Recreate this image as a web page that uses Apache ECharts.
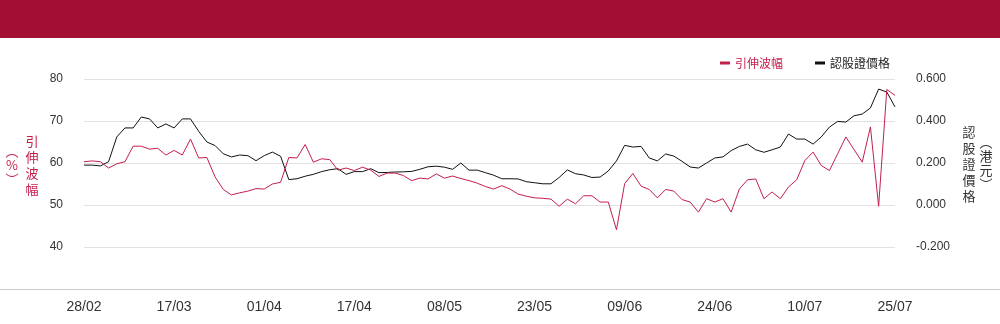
<!DOCTYPE html>
<html>
<head>
<meta charset="utf-8">
<script src="https://cdn.jsdelivr.net/npm/echarts@6/dist/echarts.min.js"></script>
<style>
html,body{margin:0;padding:0;background:#fff;}
#c{width:1000px;height:324px;}
</style>
</head>
<body>
<div id="c"></div>
<script>
var dates = ['28/02',
 '03/03','04/03','05/03','06/03','07/03','10/03','11/03','12/03','13/03','14/03','17/03','18/03','19/03','20/03','21/03','24/03','25/03','26/03','27/03','28/03','31/03',
 '01/04','02/04','03/04','07/04','08/04','09/04','10/04','11/04','14/04','15/04','16/04','17/04','22/04','23/04','24/04','25/04','28/04','29/04','30/04',
 '02/05','06/05','07/05','08/05','09/05','12/05','13/05','14/05','15/05','16/05','19/05','20/05','21/05','22/05','23/05','26/05','27/05','28/05','29/05','30/05',
 '02/06','03/06','04/06','05/06','06/06','09/06','10/06','11/06','12/06','13/06','16/06','17/06','18/06','19/06','20/06','23/06','24/06','25/06','26/06','27/06','30/06',
 '02/07','03/07','04/07','07/07','08/07','09/07','10/07','11/07','14/07','15/07','16/07','17/07','18/07','21/07','22/07','23/07','24/07','25/07'];

var impliedVol = [60.3,60.5,60.3,58.8,59.8,60.3,64.0,64.0,63.3,63.5,
 61.9,63.0,61.9,65.7,61.2,61.3,56.7,53.7,52.4,52.9,
 53.3,53.9,53.8,55.0,55.4,61.3,61.2,64.4,60.2,61.0,
 60.8,58.3,58.8,58.2,59.0,58.3,56.8,57.6,57.6,57.0,
 55.8,56.4,56.2,57.4,56.4,56.9,56.3,55.8,55.2,54.4,
 53.8,54.6,53.8,52.6,52.1,51.7,51.6,51.4,49.7,51.4,
 50.3,52.2,52.2,50.7,50.7,44.1,55.1,57.5,54.5,53.7,
 51.7,53.7,53.3,51.3,50.7,48.3,51.5,50.7,51.5,48.3,
 53.8,56.0,56.2,51.5,53.1,51.5,54.3,56.0,60.6,62.6,
 59.4,58.2,62.2,66.2,63.2,60.2,68.6,49.7,77.5,76.1];

var warrantPrice = [0.190,0.190,0.186,0.206,0.324,0.367,0.367,0.419,0.410,0.367,
 0.386,0.367,0.410,0.410,0.351,0.300,0.283,0.244,0.229,0.238,
 0.235,0.211,0.235,0.252,0.232,0.121,0.125,0.137,0.146,0.159,
 0.168,0.173,0.146,0.159,0.159,0.173,0.154,0.155,0.157,0.158,
 0.160,0.170,0.182,0.185,0.180,0.170,0.200,0.166,0.166,0.154,
 0.142,0.125,0.125,0.124,0.111,0.106,0.101,0.101,0.131,0.167,
 0.149,0.143,0.131,0.133,0.162,0.210,0.284,0.276,0.279,0.224,
 0.210,0.243,0.233,0.208,0.181,0.176,0.200,0.224,0.229,0.259,
 0.279,0.290,0.263,0.251,0.263,0.276,0.338,0.314,0.314,0.290,
 0.324,0.371,0.398,0.395,0.425,0.433,0.462,0.552,0.538,0.467];

var RED = '#c41e4b';
var BANNER = '#a30e34';
var LATIN = 'Liberation Sans, Arial, sans-serif';
var CJK = 'Noto Sans CJK TC, sans-serif';

var chart = echarts.init(document.getElementById('c'), null, {renderer:'canvas'});
chart.setOption({
  animation: false,
  backgroundColor: '#fff',
  graphic: [
    {type:'rect', shape:{x:0,y:0,width:1000,height:38}, style:{fill:BANNER}, silent:true},
    {type:'line', shape:{x1:0,y1:289.5,x2:1000,y2:289.5}, style:{stroke:'#cccccc',lineWidth:1}, silent:true, z:10},
    {type:'text', x:32, y:165, style:{text:'引\n伸\n波\n幅', fill:RED, font:'13px ' + CJK, lineHeight:16, align:'center', verticalAlign:'middle'}},
    {type:'text', x:12, y:165, style:{text:'︵\n%\n︶', fill:RED, font:'13px ' + CJK, lineHeight:14, align:'center', verticalAlign:'middle'}},
    {type:'text', x:969, y:164, style:{text:'認\n股\n證\n價\n格', fill:'#333', font:'13px ' + CJK, lineHeight:16, align:'center', verticalAlign:'middle'}},
    {type:'text', x:986, y:163, style:{text:'︵\n港\n元\n︶', fill:'#333', font:'13px ' + CJK, lineHeight:14, align:'center', verticalAlign:'middle'}}
  ],
  legend: {
    right: 105,
    top: 52,
    icon: 'rect',
    itemWidth: 10,
    itemHeight: 3,
    itemGap: 32,
    textStyle: {fontFamily: CJK, fontSize: 12, color:'#333'},
    data: [
      {name:'引伸波幅', textStyle:{color:RED}},
      {name:'認股證價格', textStyle:{color:'#222'}}
    ]
  },
  grid: {left:84, right:105, top:79, bottom:35, containLabel:false},
  xAxis: {
    type:'category',
    data: dates,
    boundaryGap:false,
    axisLine:{show:false},
    axisTick:{show:false},
    axisLabel:{interval:10, margin:11, color:'#333', fontFamily:'Liberation Sans Narrow, Arial Narrow, sans-serif', fontSize:14},
    splitLine:{show:false}
  },
  yAxis: [
    {
      type:'value', min:30, max:80, interval:10, position:'left',
      axisLine:{show:false}, axisTick:{show:false},
      axisLabel:{margin:21, color:'#333', fontFamily:LATIN, fontSize:12,
        formatter:function(v){return v===30?'':String(v);}},
      splitLine:{show:true, lineStyle:{color:'#e2e2e2', width:1}}
    },
    {
      type:'value', min:-0.4, max:0.6, interval:0.2, position:'right',
      axisLine:{show:false}, axisTick:{show:false},
      axisLabel:{margin:21, color:'#333', fontFamily:LATIN, fontSize:12,
        formatter:function(v){return Math.abs(v+0.4)<1e-9?'':v.toFixed(3);}},
      splitLine:{show:false}
    }
  ],
  series: [
    {name:'引伸波幅', type:'line', yAxisIndex:0, data:impliedVol, symbol:'none', smooth:false,
     lineStyle:{color:RED, width:1}, itemStyle:{color:RED}, z:3},
    {name:'認股證價格', type:'line', yAxisIndex:1, data:warrantPrice, symbol:'none', smooth:false,
     lineStyle:{color:'#111', width:1}, itemStyle:{color:'#111'}, z:2}
  ]
});
</script>
</body>
</html>
